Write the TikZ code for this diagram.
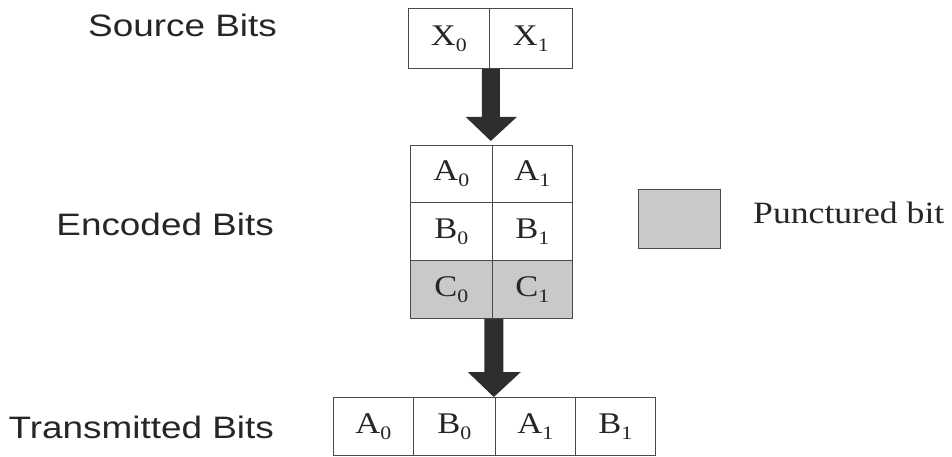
\documentclass[tikz,border=0pt]{standalone}
\usepackage{fontspec}
\setmainfont{Liberation Serif}
\newfontfamily\lsans{Liberation Sans}
\usetikzlibrary{calc}
\newcommand{\sbit}[2]{\scalebox{1.15}[1]{#1\raisebox{-0.2em}{\fontsize{19}{19}\selectfont #2}}}
\newcommand{\lbl}[1]{\scalebox{1.15}[1]{#1}}
\newcommand{\slbl}[1]{\scalebox{1.19}[1]{#1}}
\definecolor{boxline}{HTML}{4A4A4A}
\definecolor{punct}{HTML}{C9C9C9}
\definecolor{arrowc}{HTML}{2E2E2E}
\definecolor{txt}{HTML}{262626}
\begin{document}
\begin{tikzpicture}[x=1pt,y=-1pt,
  cell/.style={draw=boxline,line width=0.8pt,inner sep=0pt,anchor=north west,
    font=\fontsize{30}{30}\selectfont,text=txt},
  punc/.style={fill=punct},
  side/.style={font=\lsans\fontsize{31}{31}\selectfont,text=txt,inner sep=0pt},
  bigarrow/.style={fill=arrowc}]
\useasboundingbox (0,0) rectangle (952,457);
% source
\node[cell,minimum width=81pt,minimum height=60pt] (x0) at (408,8) {\sbit{X}{0}};
\node[cell,minimum width=83pt,minimum height=60pt] (x1) at (489,8) {\sbit{X}{1}};
% encoded
\node[cell,minimum width=82pt,minimum height=57pt] (a0) at (410,145) {\sbit{A}{0}};
\node[cell,minimum width=80pt,minimum height=57pt] (a1) at (492,145) {\sbit{A}{1}};
\node[cell,minimum width=82pt,minimum height=58pt] (b0) at (410,202) {\sbit{B}{0}};
\node[cell,minimum width=80pt,minimum height=58pt] (b1) at (492,202) {\sbit{B}{1}};
\node[cell,punc,minimum width=82pt,minimum height=58pt] (c0) at (410,260) {\sbit{C}{0}};
\node[cell,punc,minimum width=80pt,minimum height=58pt] (c1) at (492,260) {\sbit{C}{1}};
% transmitted
\node[cell,minimum width=80pt,minimum height=58pt] (t0) at (333,397) {\sbit{A}{0}};
\node[cell,minimum width=82pt,minimum height=58pt] (t1) at (413,397) {\sbit{B}{0}};
\node[cell,minimum width=80pt,minimum height=58pt] (t2) at (495,397) {\sbit{A}{1}};
\node[cell,minimum width=80pt,minimum height=58pt] (t3) at (575,397) {\sbit{B}{1}};
% legend
\node[cell,punc,minimum width=82pt,minimum height=59pt] (leg) at (638,189) {};
\node[anchor=base west,inner sep=0pt,font=\fontsize{31}{31}\selectfont,text=txt] (legt) at (753,223) {\lbl{Punctured bit}};
% side labels
\node[side,anchor=base east] (ls) at (277,37) {\slbl{Source Bits}};
\node[side,anchor=base east] (le) at (274,235) {\slbl{Encoded Bits}};
\node[side,anchor=base east] (lt) at (274,438) {\slbl{Transmitted Bits}};
% arrows
\coordinate (s1) at ($(x0.south east)+(1,0)$);
\coordinate (e1) at ($(s1 |- a0.north)+(0,-4)$);
\fill[bigarrow] ($(s1)+(-9,0)$) -- ($(s1)+(9,0)$) -- ($(e1)+(9,-24)$) -- ($(e1)+(26,-24)$)
  -- (e1) -- ($(e1)+(-25,-24)$) -- ($(e1)+(-9,-24)$) -- cycle;
\coordinate (s2) at ($(c0.south east)+(1,0)$);
\coordinate (e2) at ($(s2 |- t2.north)+(0,0)$);
\fill[bigarrow] ($(s2)+(-9.5,0)$) -- ($(s2)+(9.5,0)$) -- ($(e2)+(9.5,-25)$) -- ($(e2)+(27,-25)$)
  -- (e2) -- ($(e2)+(-26,-25)$) -- ($(e2)+(-9.5,-25)$) -- cycle;
\end{tikzpicture}
\end{document}
